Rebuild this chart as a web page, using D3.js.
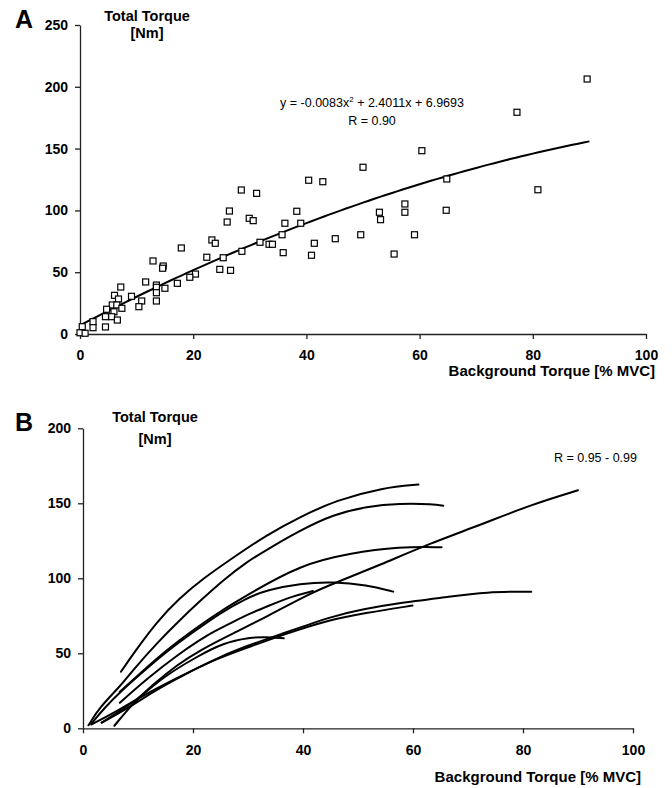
<!DOCTYPE html>
<html>
<head>
<meta charset="utf-8">
<script src="https://cdn.jsdelivr.net/npm/d3@7"></script>
<style>
  html, body { margin: 0; padding: 0; background: #fff; }
  svg { display: block; font-family: "Liberation Sans", Arial, sans-serif; }
  .axis path, .axis line { stroke: #222; stroke-width: 1.3; }
  .axis text { font-size: 14px; font-weight: bold; fill: #000; }
</style>
</head>
<body>
<svg id="chart" width="672" height="788"></svg>
<script>
// ---------- Panel A: individual measurements with quadratic fit ----------
const backgroundA = [
  89.6, 77.2, 60.4, 50.0, 40.4, 42.9, 64.8, 80.9, 57.4, 57.4, 52.9, 53.1, 64.7, 38.3, 36.2, 39.0,
  35.7, 49.6, 59.1, 45.1, 41.4, 35.9, 40.9, 55.5,
  28.5, 31.2, 26.4, 26.0, 29.9, 30.6, 23.3, 23.9, 31.8, 33.4, 34.0, 17.9, 22.4, 25.3, 28.6, 12.9,
  14.7, 14.6, 24.7, 26.6, 20.4, 19.4, 17.2, 11.6, 13.5, 13.5, 15.0, 13.5, 13.5, 7.2, 9.1, 6.1,
  6.8, 10.9, 10.4, 5.7, 6.5, 4.7, 7.4, 6.0, 4.5, 5.6, 6.6, 2.3, 4.5, 2.3, 0.4, 0.0, 0.9
];
const totalA = [
  206.3, 179.4, 148.3, 134.9, 124.4, 123.2, 125.4, 116.7, 105.2, 98.5, 98.5, 92.5, 100.1, 99.3, 89.6, 89.6,
  80.3, 80.3, 80.3, 77.1, 73.4, 65.8, 63.7, 64.7,
  116.5, 113.8, 99.5, 90.6, 93.6, 91.7, 76.1, 73.4, 74.2, 72.6, 72.6, 69.6, 62.1, 61.7, 66.9, 59.1,
  55.0, 53.2, 52.3, 51.5, 48.5, 45.9, 41.0, 42.1, 39.6, 37.8, 37.0, 33.4, 26.7, 38.0, 30.5, 31.3,
  28.3, 26.7, 22.1, 23.5, 23.5, 20.0, 20.8, 18.0, 14.0, 14.0, 11.3, 10.0, 5.7, 5.1, 5.9, 1.0, 0.6
];
// y = a x^2 + b x + c
const fitCoefficients = [-0.0083, 2.4011, 6.9693];
const fitRange = [0, 90];

// ---------- Panel B: per-subject regression curves ----------
const subject1 = [[6.9,37.7],[9.2,50],[13.4,71],[17.6,87],[21.9,100],[27,113],[33.4,129],[39.5,141],[46,152],[54.6,160.5],[61,162.5]];
const subject2 = [[1,2],[3.1,14.4],[6.7,27.7],[9.1,38.9],[13.4,56.7],[17.6,72.2],[21.3,85],[25.5,98.9],[29.8,111],[33.4,119],[39.5,132],[45.5,142.5],[51.6,148],[57.6,150],[63.7,149.5],[65.5,148.4]];
const subject3 = [[5.7,1.7],[9.1,16.7],[13,30],[17,42],[21.3,52.2],[27.3,63.3],[33.4,74.4],[41.3,90],[46.1,97.3],[54,108.9],[63.1,123.3],[72.2,135.5],[81.3,148.9],[90,158.7]];
const subject4 = [[6.7,24.4],[10.4,36.7],[15.2,52.2],[20,65.5],[25.3,78.9],[30.4,90],[39.5,108.9],[48.5,116.7],[57.6,121.1],[65.2,120.7]];
const subject5 = [[1.5,3],[4,14],[7,25],[11,38],[15.5,52],[20,64],[25,77],[29.7,86.7],[33.4,92.2],[39.5,96.6],[45.5,97.7],[51.6,95.5],[56.4,91.1]];
const subject6 = [[6.7,17],[11.6,33],[17.6,50],[21.3,59],[23.7,64.4],[27.3,71],[30.4,76.6],[33.4,81.1],[38,88],[41.8,91.5]];
const subject7 = [[3.4,3.8],[6.5,11],[9.8,18.9],[14.6,34.4],[20.7,47.7],[25.5,57],[30.4,60.5],[33,61],[36.5,60]];
const subject8 = [[1.5,2.5],[5.5,10],[11.6,23.3],[17.6,34.4],[23.7,45.5],[28.5,53.3],[36.4,63.3],[45.5,75],[51,79.5],[57,83.3],[66.1,87.5],[73.4,91],[81.5,91.1]];
const subject9 = [[3.4,3.8],[8,13],[13,25],[18,35],[24,46],[30.4,54.4],[36.4,62.5],[45,72.5],[51,76.7],[59.9,81.8]];
const subjectCurves = [subject1, subject2, subject3, subject4, subject5, subject6, subject7, subject8, subject9];

const xTicks = [0, 20, 40, 60, 80, 100];
const yTicksA = [0, 50, 100, 150, 200, 250];
const yTicksB = [0, 50, 100, 150, 200];

const svg = d3.select("#chart");

// ---- panel A ----
const xA = d3.scaleLinear().domain([0, 100]).range([80, 646]);
const yA = d3.scaleLinear().domain([0, 250]).range([334, 25]);

svg.append("g").attr("class", "axis")
  .attr("transform", "translate(0,334)")
  .call(d3.axisBottom(xA).tickValues(xTicks).tickSize(5).tickSizeOuter(0).tickPadding(11));
svg.append("g").attr("class", "axis")
  .attr("transform", "translate(80,0)")
  .call(d3.axisLeft(yA).tickValues(yTicksA).tickSize(5).tickSizeOuter(0).tickPadding(7));

const fitPoints = d3.range(fitRange[0], fitRange[1] + 0.001, 1).map(x =>
  [x, fitCoefficients[0] * x * x + fitCoefficients[1] * x + fitCoefficients[2]]);
svg.append("path")
  .datum(fitPoints)
  .attr("fill", "none").attr("stroke", "#000").attr("stroke-width", 2)
  .attr("d", d3.line().x(d => xA(d[0])).y(d => yA(d[1])));

const sq = 6;
svg.append("g").selectAll("rect")
  .data(d3.range(backgroundA.length))
  .join("rect")
  .attr("x", i => xA(backgroundA[i]) - sq / 2)
  .attr("y", i => yA(totalA[i]) - sq / 2)
  .attr("width", sq).attr("height", sq)
  .attr("fill", "#fff").attr("stroke", "#000").attr("stroke-width", 1.2);

svg.append("text").attr("x", 15).attr("y", 28)
  .attr("font-size", 25).attr("font-weight", "bold").text("A");
svg.append("text").attr("x", 147).attr("y", 21).attr("text-anchor", "middle")
  .attr("font-size", 14.5).attr("font-weight", "bold").text("Total Torque");
svg.append("text").attr("x", 147).attr("y", 38).attr("text-anchor", "middle")
  .attr("font-size", 14.5).attr("font-weight", "bold").text("[Nm]");
svg.append("text").attr("x", 655).attr("y", 376).attr("text-anchor", "end")
  .attr("font-size", 15).attr("font-weight", "bold").text("Background Torque [% MVC]");

const eq = svg.append("text").attr("x", 372).attr("y", 107).attr("text-anchor", "middle")
  .attr("font-size", 12.5);
eq.append("tspan").text("y = -0.0083x");
eq.append("tspan").attr("font-size", 8).attr("dy", -5).text("2");
eq.append("tspan").attr("dy", 5).text(" + 2.4011x + 6.9693");
svg.append("text").attr("x", 372).attr("y", 125).attr("text-anchor", "middle")
  .attr("font-size", 12.5).text("R = 0.90");

// ---- panel B ----
const xB = d3.scaleLinear().domain([0, 100]).range([83, 633]);
const yB = d3.scaleLinear().domain([0, 200]).range([728.3, 428.3]);

svg.append("g").attr("class", "axis")
  .attr("transform", "translate(0,728.3)")
  .call(d3.axisBottom(xB).tickValues(xTicks).tickSize(5).tickSizeOuter(0).tickPadding(12));
svg.append("g").attr("class", "axis")
  .attr("transform", "translate(83,0)")
  .call(d3.axisLeft(yB).tickValues(yTicksB).tickSize(5).tickSizeOuter(0).tickPadding(7));

const curveLine = d3.line()
  .x(d => xB(d[0])).y(d => yB(d[1]))
  .curve(d3.curveBasis);
svg.append("g").selectAll("path")
  .data(subjectCurves)
  .join("path")
  .attr("fill", "none").attr("stroke", "#000").attr("stroke-width", 2)
  .attr("stroke-linecap", "round")
  .attr("d", curveLine);

svg.append("text").attr("x", 15).attr("y", 431)
  .attr("font-size", 25).attr("font-weight", "bold").text("B");
svg.append("text").attr("x", 155).attr("y", 422).attr("text-anchor", "middle")
  .attr("font-size", 14.5).attr("font-weight", "bold").text("Total Torque");
svg.append("text").attr("x", 155).attr("y", 444).attr("text-anchor", "middle")
  .attr("font-size", 14.5).attr("font-weight", "bold").text("[Nm]");
svg.append("text").attr("x", 641).attr("y", 782).attr("text-anchor", "end")
  .attr("font-size", 15).attr("font-weight", "bold").text("Background Torque [% MVC]");
svg.append("text").attr("x", 637).attr("y", 462).attr("text-anchor", "end")
  .attr("font-size", 12.5).text("R = 0.95 - 0.99");
</script>
</body>
</html>
